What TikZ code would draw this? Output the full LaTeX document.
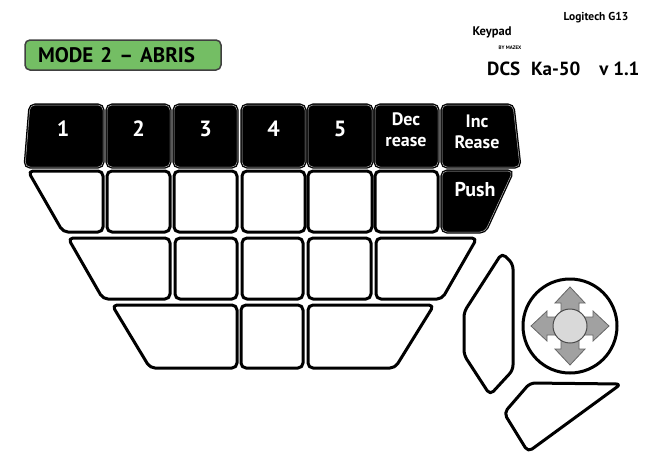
\documentclass[tikz,border=0pt]{standalone}
\usepackage{fontspec}
\setmainfont{PT Sans}
\usetikzlibrary{positioning}
\definecolor{modegreen}{RGB}{116,190,100}

\begin{document}
\begin{tikzpicture}[x=1pt,y=-1pt,
  whitekey/.style={draw=black,fill=white,line width=3pt,rounded corners=5pt,line join=round},
  blackkey/.style={draw=black,fill=black,line width=1.3pt,double=gray!55,double distance=0.5pt,rounded corners=5pt},
  keylabel/.style={text=white,font=\bfseries\fontsize{22}{24}\selectfont,inner sep=0pt},
  smalllabel/.style={text=white,font=\bfseries\fontsize{18}{21}\selectfont,align=center,inner sep=0pt},
  padarrow/.style={fill=black!37,draw=black!60,line width=0.8pt,line join=miter}]
\useasboundingbox (0,0) rectangle (666,463);

% header
\node[draw=black!75,line width=1.5pt,fill=modegreen,rounded corners=5pt,minimum height=30pt,
  inner xsep=13pt,text width=170pt,align=left,font=\bfseries\fontsize{21}{23}\selectfont] (mode) at (123,55) {MODE 2 -- ABRIS};
\node[font=\bfseries\fontsize{11.5}{13}\selectfont] (brand) at (596,18) {Logitech G13};
\node[font=\bfseries\fontsize{12.5}{14}\selectfont] (kpad) at (492,32) {Keypad};
\node[font=\bfseries\fontsize{5}{6}\selectfont] (author) at (510,48) {BY MAZEX};
\node[anchor=west,font=\bfseries\fontsize{19}{21}\selectfont,inner sep=0pt] (title) at (487,69) {DCS\hspace{11pt}Ka-50\hspace{19pt}v 1.1};

% row 1 (black)
\draw[blackkey] (30,105) -- (103,105) -- (103,167) -- (25,167) -- cycle;
\node[keylabel] (k1) at (63,129) {1};
\foreach \xa/\xb/\lab in {107/170/2,174/237/3,242/305/4,308/372/5}{
  \draw[blackkey] (\xa,105) rectangle (\xb,167);
  \node[keylabel] (k\lab) at ({(\xa+\xb)/2},129) {\lab};
}
\draw[blackkey] (375,105) rectangle (438,167);
\node[smalllabel] (kdec) at (406,130) {Dec\\rease};
\draw[blackkey] (442,105) -- (513,105) -- (520,167) -- (442,167) -- cycle;
\node[smalllabel] (kinc) at (477,132) {Inc\\Rease};

% row 2
\draw[whitekey] (28,171) -- (103,171) -- (103,232) -- (63,232) -- cycle;
\foreach \xa/\xb in {107/170,174/237,242/305,308/372,375/438}
  \draw[whitekey] (\xa,171) rectangle (\xb,232);
\draw[blackkey] (442,171) -- (513,171) -- (485,232) -- (442,232) -- cycle;
\node[keylabel,font=\bfseries\fontsize{20}{22}\selectfont] (kpush) at (475,190) {Push};

% row 3
\draw[whitekey] (68,238) -- (170,238) -- (170,299) -- (103,299) -- cycle;
\foreach \xa/\xb in {175/237,242/303,308/371}
  \draw[whitekey] (\xa,238) rectangle (\xb,299);
\draw[whitekey] (376,238) -- (477,238) -- (442,299) -- (376,299) -- cycle;

% row 4
\draw[whitekey] (112,305) -- (237,305) -- (237,368) -- (150,368) -- cycle;
\draw[whitekey] (241,305) rectangle (303,368);
\draw[whitekey] (308,305) -- (434,305) -- (395,368) -- (308,368) -- cycle;

% thumb keys
\draw[whitekey] (502,253) -- (513,264) -- (513,370) -- (490,395) -- (464,355) -- (464,312) -- cycle;
\draw[whitekey] (530,383) -- (621,384) -- (528,452) -- (504,413) -- cycle;

% joystick
\node[circle,draw=black,line width=3pt,fill=white,minimum size=94pt] (joy) at (570,326) {};
\begin{scope}[shift={(joy.center)}]
\draw[padarrow] (9,-9) -- (23,-9) -- (23,-15) -- (39,0) -- (23,15) -- (23,9) -- (9,9)
  -- (9,23) -- (15,23) -- (0,39) -- (-15,23) -- (-9,23) -- (-9,9)
  -- (-23,9) -- (-23,15) -- (-39,0) -- (-23,-15) -- (-23,-9) -- (-9,-9)
  -- (-9,-23) -- (-15,-23) -- (0,-39) -- (15,-23) -- (9,-23) -- cycle;
\end{scope}
\node[circle,draw=black!70,fill=black!15,line width=1pt,minimum size=34pt] (knob) at (joy) {};
\end{tikzpicture}
\end{document}
